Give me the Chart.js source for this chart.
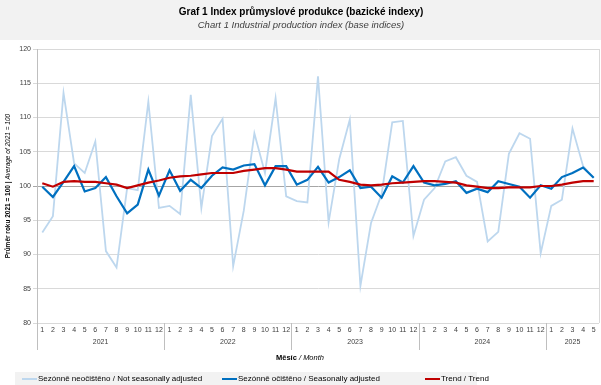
<!DOCTYPE html>
<html>
<head>
<meta charset="utf-8">
<script src="https://cdn.jsdelivr.net/npm/chart.js@4"></script>
<style>
  html, body { margin: 0; padding: 0; background: #fff; }
  #wrap { width: 601px; height: 385px; }
</style>
</head>
<body>
<div id="wrap"><canvas id="ipChart" width="601" height="385"></canvas></div>
<script>
// months 2021/1 .. 2025/5
const years = ['2021', '2022', '2023', '2024', '2025'];
const monthsPerYear = [12, 12, 12, 12, 5];
const months = [];
monthsPerYear.forEach(n => { for (let m = 1; m <= n; m++) months.push(String(m)); });

// Sezónně neočištěno / Not seasonally adjusted
const notAdjusted = [
  93.2, 95.6, 113.6, 103.3, 101.9, 106.5, 90.5, 88.1, 99.7, 99.4, 112.3, 96.8,
  97.1, 95.9, 113.3, 96.8, 107.3, 109.8, 88.3, 96.4, 107.7, 101.9, 112.8, 98.5,
  97.8, 97.6, 116.0, 94.7, 103.9, 109.7, 85.4, 94.6, 98.8, 109.3, 109.5, 92.7,
  98.0, 99.7, 103.6, 104.2, 101.5, 100.6, 91.9, 93.3, 104.7, 107.7, 106.9, 90.2,
  97.1, 98.0, 108.4, 102.9, 101.2
];
// Sezónně očištěno / Seasonally adjusted
const adjusted = [
  99.9, 98.4, 100.6, 102.9, 99.2, 99.7, 101.3, 98.5, 96.0, 97.3, 102.4, 98.6,
  102.3, 99.3, 100.9, 99.7, 101.5, 102.7, 102.4, 103.0, 103.2, 100.1, 102.9, 102.9,
  100.2, 100.9, 102.8, 100.5, 101.3, 102.3, 99.7, 99.9, 98.3, 101.4, 100.5, 102.9,
  100.5, 100.1, 100.3, 100.7, 99.0, 99.6, 99.1, 100.7, 100.3, 99.9, 98.3, 100.1,
  99.6, 101.3, 101.9, 102.7, 101.2
];
// Trend / Trend
const trend = [
  100.4, 99.9, 100.6, 100.7, 100.6, 100.6, 100.4, 100.2, 99.7, 100.1, 100.5, 100.8,
  101.2, 101.4, 101.5, 101.7, 101.9, 101.9, 101.9, 102.2, 102.4, 102.6, 102.6, 102.4,
  102.1, 102.1, 102.1, 102.1, 100.9, 100.6, 100.2, 100.1, 100.2, 100.4, 100.5, 100.6,
  100.7, 100.7, 100.6, 100.5, 100.1, 99.9, 99.7, 99.7, 99.8, 99.8, 99.8, 100.0,
  100.0, 100.2, 100.5, 100.7, 100.7
];

const yTicks = [80, 85, 90, 95, 100, 105, 110, 115, 120];

const seriesNames = [
  'Sezónně neočištěno / Not seasonally adjusted',
  'Sezónně očištěno / Seasonally adjusted',
  'Trend / Trend'
];
const seriesColors = ['#bdd7ee', '#0070c0', '#c00000'];

const FONT = '"Liberation Sans", Arial, sans-serif';

// text, background, year row, legend
const decor = {
  id: 'decor',
  beforeDraw(chart) {
    const c = chart.ctx;
    c.save();
    c.fillStyle = '#ffffff';
    c.fillRect(0, 0, chart.width, chart.height);
    c.fillStyle = '#f2f2f2';
    c.fillRect(0, 0, chart.width, 40);
    c.restore();
  },
  afterDraw(chart) {
    const c = chart.ctx;
    const x = chart.scales.x;
    const area = chart.chartArea;
    c.save();

    // titles
    c.fillStyle = '#000';
    c.textAlign = 'center';
    c.textBaseline = 'middle';
    c.font = 'bold 10px ' + FONT;
    c.fillText('Graf 1 Index průmyslové produkce (bazické indexy)', 301, 12);
    c.fillStyle = '#404040';
    c.font = 'italic 9.5px ' + FONT;
    c.fillText('Chart 1 Industrial production index (base indices)', 301, 25);

    // right border
    c.strokeStyle = '#d9d9d9';
    c.lineWidth = 1;
    c.beginPath();
    c.moveTo(area.right + 0.5, area.top);
    c.lineTo(area.right + 0.5, area.bottom);
    c.stroke();

    // year separators and labels
    c.strokeStyle = '#bfbfbf';
    const half = (x.getPixelForValue(1) - x.getPixelForValue(0)) / 2;
    let idx = 0;
    c.beginPath();
    c.moveTo(area.left + 0.5, area.bottom);
    c.lineTo(area.left + 0.5, area.bottom + 27);
    c.stroke();
    c.fillStyle = '#404040';
    c.font = '7px ' + FONT;
    years.forEach((yr, i) => {
      const start = x.getPixelForValue(idx) - half;
      idx += monthsPerYear[i];
      const end = x.getPixelForValue(idx - 1) + half;
      if (i < years.length - 1) {
        c.beginPath();
        c.moveTo(Math.round(end) + 0.5, area.bottom);
        c.lineTo(Math.round(end) + 0.5, area.bottom + 27);
        c.stroke();
      }
      c.fillText(yr, (start + end) / 2, area.bottom + 19);
    });

    // x axis title
    c.fillStyle = '#000';
    c.textAlign = 'left';
    const t1 = 'Měsíc';
    const t2 = ' / Month';
    c.font = 'bold 7.5px ' + FONT;
    const w1 = c.measureText(t1).width;
    c.font = 'italic 7.5px ' + FONT;
    const w2 = c.measureText(t2).width;
    const sx = 300 - (w1 + w2) / 2;
    c.font = 'bold 7.5px ' + FONT;
    c.fillText(t1, sx, 358);
    c.font = 'italic 7.5px ' + FONT;
    c.fillText(t2, sx + w1, 358);

    // y axis title
    c.translate(8, (area.top + area.bottom) / 2);
    c.rotate(-Math.PI / 2);
    const y1 = 'Průměr roku 2021 = 100 | ';
    const y2 = 'Average of 2021 = 100';
    c.font = 'bold 6.5px ' + FONT;
    const a1 = c.measureText(y1).width;
    c.font = 'italic 6.5px ' + FONT;
    const a2 = c.measureText(y2).width;
    c.font = 'bold 6.5px ' + FONT;
    c.fillText(y1, -(a1 + a2) / 2, 0);
    c.font = 'italic 6.5px ' + FONT;
    c.fillText(y2, -(a1 + a2) / 2 + a1, 0);
    c.setTransform(1, 0, 0, 1, 0, 0);

    // legend
    c.fillStyle = '#f2f2f2';
    c.fillRect(15, 372, 462, 13);
    c.font = '8px ' + FONT;
    c.textBaseline = 'middle';
    const lx = [22, 222, 425];
    seriesNames.forEach((name, i) => {
      c.strokeStyle = seriesColors[i];
      c.lineWidth = 2;
      c.beginPath();
      c.moveTo(lx[i], 379);
      c.lineTo(lx[i] + 15, 379);
      c.stroke();
      c.fillStyle = '#000';
      c.fillText(name, lx[i] + 16, 379);
    });
    c.restore();
  }
};

new Chart(document.getElementById('ipChart'), {
  type: 'line',
  data: {
    labels: months,
    datasets: [
      { label: seriesNames[2], data: trend, borderColor: seriesColors[2], borderWidth: 2.2, order: 0 },
      { label: seriesNames[1], data: adjusted, borderColor: seriesColors[1], borderWidth: 2.2, order: 1 },
      { label: seriesNames[0], data: notAdjusted, borderColor: seriesColors[0], borderWidth: 1.8, order: 2 }
    ]
  },
  options: {
    responsive: false,
    animation: false,
    layout: { padding: { top: 49, right: 2, left: 0, bottom: 0 } },
    elements: { point: { radius: 0 }, line: { tension: 0 } },
    plugins: { legend: { display: false }, title: { display: false }, tooltip: { enabled: false } },
    scales: {
      x: {
        offset: true,
        afterFit: s => { s.height = 62; },
        grid: { display: false, drawTicks: false },
        border: { display: false },
        ticks: { font: { family: FONT, size: 7 }, color: '#404040', maxRotation: 0, autoSkip: false, padding: 3 }
      },
      y: {
        min: 80,
        max: 120,
        afterFit: s => { s.width = 37; },
        afterBuildTicks: s => { s.ticks = yTicks.map(v => ({ value: v })); },
        grid: {
          color: ctx => (ctx.tick && ctx.tick.value === 100 ? '#a6a6a6' : '#d9d9d9'),
          tickLength: 4
        },
        border: { color: '#bfbfbf' },
        ticks: { font: { family: FONT, size: 7 }, color: '#404040', padding: 2 }
      }
    }
  },
  plugins: [decor]
});
</script>
</body>
</html>
